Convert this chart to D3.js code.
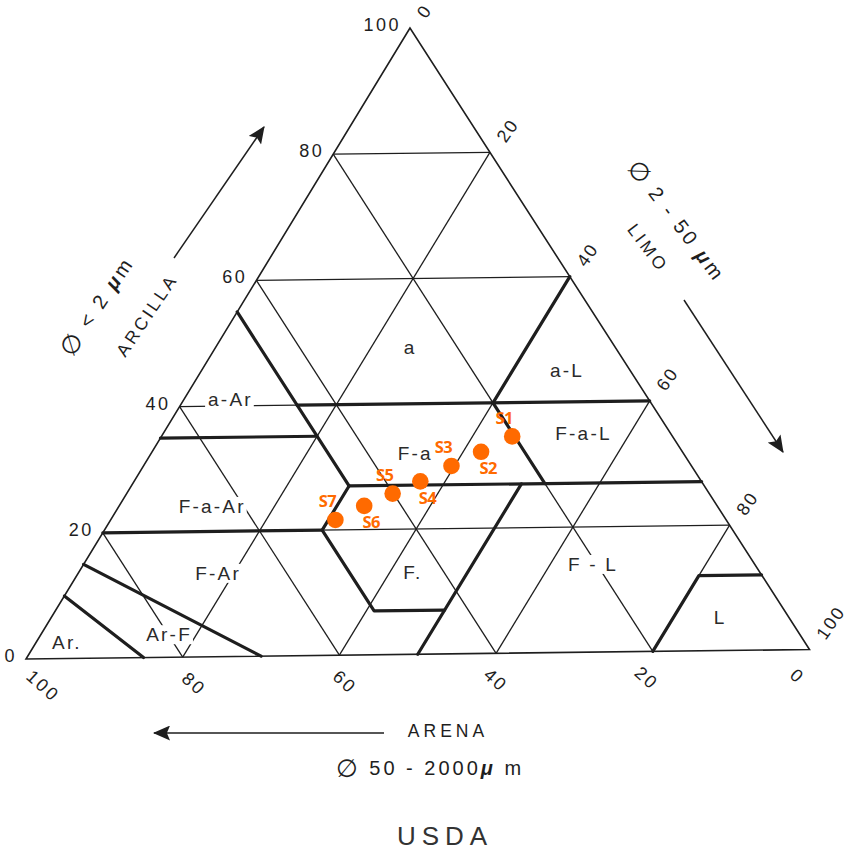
<!DOCTYPE html>
<html>
<head>
<meta charset="utf-8">
<script src="https://cdn.jsdelivr.net/npm/d3@7"></script>
<style>
  body { margin: 0; background: #fff; }
  svg { display: block; }
</style>
</head>
<body>
<svg id="chart" width="849" height="850"></svg>
<script>
// ---- Soil samples: % clay (arcilla), % silt (limo), % sand (arena)
const sampleNames = ["S1", "S2", "S3", "S4", "S5", "S6", "S7"];
const sampleClay  = [34.6, 32.2, 30.0, 27.6, 25.7, 23.8, 21.6];
const sampleSilt  = [45.1, 42.3, 39.6, 36.8, 34.2, 31.5, 28.9];
const sampleSand  = [20.3, 25.5, 30.4, 35.6, 40.1, 44.7, 49.5];

// ---- Axis ticks and grid
const tickValues = [0, 20, 40, 60, 80, 100];
const gridValues = [20, 40, 60, 80];

// ---- Texture classes (USDA, Spanish abbreviations) and a label point for each (% clay, % silt)
const classNames = ["a", "a-L", "F-a-L", "a-Ar", "F-a", "F-a-Ar", "F-Ar", "F.", "F - L", "L", "Ar.", "Ar-F"];
const classClay  = [49, 45, 35, 41, 32, 24, 13.3, 13, 14, 5.3, 2.5, 3.6];
const classSilt  = [25, 47, 54, 6, 34, 12, 18, 43, 65.5, 86, 4, 16.5];

// ---- Class boundaries as polylines of [% clay, % silt]
const boundSand45      = [[55, 0], [27, 28]];
const boundClay35      = [[35, 0], [35, 20]];
const boundClay40      = [[40, 15], [40, 60]];
const boundSilt40      = [[40, 40], [60, 40]];
const boundSand20      = [[40, 40], [27, 53]];
const boundClay27      = [[27, 28], [27, 73]];
const boundLoamLeft    = [[27, 28], [20, 28], [7, 41], [7, 50]];
const boundSilt50      = [[0, 50], [27, 50]];
const boundClay20      = [[20, 0], [20, 28]];
const boundSilt        = [[0, 80], [12, 80], [12, 88]];
const boundLoamySand   = [[15, 0], [0, 30]];
const boundSand        = [[10, 0], [0, 15]];
const boundaries = [boundSand45, boundClay35, boundClay40, boundSilt40, boundSand20, boundClay27,
                    boundLoamLeft, boundSilt50, boundClay20, boundSilt, boundLoamySand, boundSand];

// ---- Layout
const svg = d3.select("#chart");
const ink = "#1e1e1e";
const TOP = { x: 410, y: 28 };        // 100 % clay
const LEFT = { x: 26, y: 659 };       // 100 % sand
const RIGHT = { x: 809.5, y: 649.5 }; // 100 % silt

const frac = d3.scaleLinear().domain([0, 100]).range([0, 1]);
function proj(clay, silt) {
  const c = frac(clay), s = frac(silt);
  return [
    LEFT.x + c * (TOP.x - LEFT.x) + s * (RIGHT.x - LEFT.x),
    LEFT.y + c * (TOP.y - LEFT.y) + s * (RIGHT.y - LEFT.y)
  ];
}
const path = d3.line().x(d => proj(d[0], d[1])[0]).y(d => proj(d[0], d[1])[1]);

// ---- Grid lines (constant clay, silt and sand)
const gridLines = [];
gridValues.forEach(v => {
  gridLines.push([[v, 0], [v, 100 - v]]);
  gridLines.push([[0, v], [100 - v, v]]);
  gridLines.push([[100 - v, 0], [0, 100 - v]]);
});
svg.append("g").selectAll("path").data(gridLines).join("path")
  .attr("d", path).attr("fill", "none").attr("stroke", ink).attr("stroke-width", 1.3);

// ---- Triangle outline
svg.append("path")
  .attr("d", path([[100, 0], [0, 0], [0, 100]]) + "Z")
  .attr("fill", "none").attr("stroke", ink).attr("stroke-width", 1.6).attr("stroke-linejoin", "miter");

// ---- Class boundaries
svg.append("g").selectAll("path").data(boundaries).join("path")
  .attr("d", path).attr("fill", "none").attr("stroke", ink)
  .attr("stroke-width", 3.2).attr("stroke-linejoin", "round").attr("stroke-linecap", "round");

// ---- Class labels on a white patch
const classG = svg.append("g");
classNames.forEach((name, i) => {
  const [x, y] = proj(classClay[i], classSilt[i]);
  const g = classG.append("g");
  const t = g.append("text")
    .attr("x", x).attr("y", y)
    .attr("text-anchor", "middle").attr("dominant-baseline", "central")
    .attr("font-family", "Liberation Sans, Arial, sans-serif")
    .attr("font-size", 19).attr("letter-spacing", 2.2)
    .attr("fill", "#2a2a2a").text(name);
  const b = t.node().getBBox();
  g.insert("rect", "text")
    .attr("x", b.x - 3).attr("y", b.y + 1).attr("width", b.width + 4).attr("height", b.height - 2)
    .attr("fill", "#fff");
});

// ---- Tick labels
const tickFont = "Liberation Sans, Arial, sans-serif";
// clay, left edge
svg.append("g").selectAll("text").data(tickValues).join("text")
  .attr("x", v => proj(v, 0)[0] - 9)
  .attr("y", v => proj(v, 0)[1] - 3)
  .attr("text-anchor", "end").attr("dominant-baseline", "central")
  .attr("font-family", tickFont).attr("font-size", 18).attr("letter-spacing", 2.5)
  .attr("fill", ink).text(v => v);
// silt, right edge
svg.append("g").selectAll("text").data(tickValues).join("text")
  .attr("transform", v => {
    const [x, y] = proj(100 - v, v);
    return `translate(${x + 11},${y - 12}) rotate(-55)`;
  })
  .attr("text-anchor", "start").attr("dominant-baseline", "central")
  .attr("font-family", tickFont).attr("font-size", 18).attr("letter-spacing", 2)
  .attr("fill", ink).text(v => v);
// sand, base
const baseShift = d3.scaleLinear().domain([0, 100]).range([-12, 17]);
svg.append("g").selectAll("text").data(tickValues).join("text")
  .attr("transform", v => {
    const [x, y] = proj(0, 100 - v);
    return `translate(${x + baseShift(v)},${y + 27}) rotate(42)`;
  })
  .attr("text-anchor", "middle").attr("dominant-baseline", "central")
  .attr("font-family", tickFont).attr("font-size", 18).attr("letter-spacing", 2.5)
  .attr("fill", ink).text(v => v);

// ---- Axis arrows
const defs = svg.append("defs");
defs.append("marker").attr("id", "head")
  .attr("viewBox", "0 0 16 14").attr("refX", 15).attr("refY", 7)
  .attr("markerUnits", "userSpaceOnUse").attr("markerWidth", 18).attr("markerHeight", 15)
  .attr("orient", "auto")
  .append("path").attr("d", "M0,0 L16,7 L0,14 L3,7 Z").attr("fill", ink);
const arrows = [
  [[174, 258], [264, 127]],
  [[684, 300], [783, 452]],
  [[384, 733], [154, 733]]
];
svg.append("g").selectAll("line").data(arrows).join("line")
  .attr("x1", d => d[0][0]).attr("y1", d => d[0][1])
  .attr("x2", d => d[1][0]).attr("y2", d => d[1][1])
  .attr("stroke", ink).attr("stroke-width", 1.5).attr("marker-end", "url(#head)");

// ---- Axis titles
const titleFont = "Liberation Sans, Arial, sans-serif";
function title(x, y, angle, size, spacing, parts) {
  const t = svg.append("text")
    .attr("transform", `translate(${x},${y}) rotate(${angle})`)
    .attr("text-anchor", "middle").attr("dominant-baseline", "central")
    .attr("font-family", titleFont).attr("font-size", size).attr("letter-spacing", spacing)
    .attr("fill", ink);
  parts.forEach(p => {
    const s = t.append("tspan").text(p.t);
    if (p.bold) s.attr("font-weight", "bold").attr("font-style", "italic");
    if (p.sym) s.attr("font-family", "DejaVu Sans, sans-serif").attr("font-size", size + 5);
  });
  return t;
}
title(147, 315, -56, 17.5, 3.2, [{ t: "ARCILLA" }]);
title(97, 306, -56, 20, 3, [{ t: "\u2205", sym: true }, { t: " < 2 " }, { t: "\u03bc", bold: true }, { t: "m" }]);
title(648, 248, 53, 17.5, 3.2, [{ t: "LIMO" }]);
title(677, 221, 53, 20, 3, [{ t: "\u2205", sym: true }, { t: " 2 - 50 " }, { t: "\u03bc", bold: true }, { t: "m" }]);
title(448, 731, 0, 17.5, 4, [{ t: "ARENA" }]);
title(430, 768, 0, 20, 3, [{ t: "\u2205", sym: true }, { t: "  50 - 2000" }, { t: "\u03bc", bold: true }, { t: " m" }]);
title(445, 836, 0, 26, 6, [{ t: "USDA" }]).attr("fill", "#333");

// ---- Sample points
const orange = "#ff6a00";
const samples = sampleNames.map((n, i) => ({ name: n, clay: sampleClay[i], silt: sampleSilt[i], sand: sampleSand[i], i }));
const sg = svg.append("g");
sg.selectAll("circle").data(samples).join("circle")
  .attr("cx", d => proj(d.clay, d.silt)[0])
  .attr("cy", d => proj(d.clay, d.silt)[1])
  .attr("r", 8.3).attr("fill", orange);
sg.selectAll("text").data(samples).join("text")
  .attr("x", d => proj(d.clay, d.silt)[0] + (d.i % 2 === 0 ? -8 : 7))
  .attr("y", d => proj(d.clay, d.silt)[1] + (d.i % 2 === 0 ? -19 : 16))
  .attr("text-anchor", "middle").attr("dominant-baseline", "central")
  .attr("font-family", "Open Sans, Noto Sans, sans-serif").attr("font-weight", "bold")
  .attr("font-size", 16.5).attr("letter-spacing", -0.6)
  .attr("fill", orange).text(d => d.name);
</script>
</body>
</html>
